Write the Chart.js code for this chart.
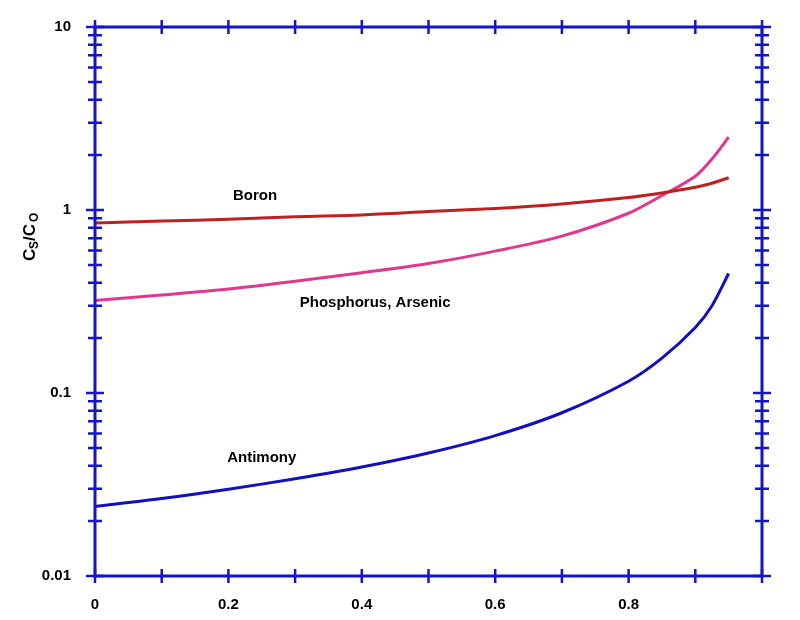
<!DOCTYPE html>
<html><head><meta charset="utf-8">
<script src="https://cdn.jsdelivr.net/npm/chart.js@4/dist/chart.umd.min.js"></script>
<style>html,body{margin:0;background:#fff}#w{width:800px;height:620px}</style>
</head><body><div id="w"><canvas id="c"></canvas></div>
<script>
const fractions = [0,0.1,0.2,0.3,0.4,0.5,0.6,0.7,0.8,0.85,0.9,0.925,0.95];
const boron     = [0.85,0.87,0.89,0.92,0.94,0.98,1.02,1.08,1.17,1.24,1.33,1.40,1.50];
const phosArsen = [0.32,0.343,0.37,0.408,0.454,0.51,0.596,0.72,0.96,1.2,1.53,1.9,2.5];
const antimony  = [0.024,0.0265,0.0298,0.034,0.0394,0.047,0.0585,0.078,0.116,0.155,0.228,0.30,0.45];
const xTicks = [0,0.2,0.4,0.6,0.8];
const yTicks = [0.01,0.1,1,10];
const labels = [["Boron",0.24,1.2],["Phosphorus, Arsenic",0.42,0.31],["Antimony",0.25,0.044]];
const AX='#1414c8';
const pts = a => a.map((v,i)=>({x:fractions[i],y:v}));
const deco = {id:'deco',afterDraw(ch){
  const c=ch.ctx,a=ch.chartArea,xs=ch.scales.x,ys=ch.scales.y;
  c.save();c.strokeStyle=AX;c.lineWidth=3;
  c.strokeRect(a.left,a.top,a.right-a.left,a.bottom-a.top);
  c.lineWidth=2.5;
  for(let i=0;i<=10;i++){const x=xs.getPixelForValue(i/10);
    c.beginPath();c.moveTo(x,a.bottom-7);c.lineTo(x,a.bottom+7);c.moveTo(x,a.top-7);c.lineTo(x,a.top+7);c.stroke();}
  for(let d=-2;d<=0;d++)for(let m=1;m<=9;m++){const v=m*Math.pow(10,d);const y=ys.getPixelForValue(v);const L=m==1?9:7;
    c.beginPath();c.moveTo(a.left-L,y);c.lineTo(a.left+L,y);c.moveTo(a.right-L,y);c.lineTo(a.right+L,y);c.stroke();}
  {const y=ys.getPixelForValue(10);c.beginPath();c.moveTo(a.left-9,y);c.lineTo(a.left+9,y);c.moveTo(a.right-9,y);c.lineTo(a.right+9,y);c.stroke();}
  c.fillStyle='#000';c.font='bold 15px "Liberation Sans"';c.textAlign='center';c.textBaseline='middle';
  labels.forEach(l=>c.fillText(l[0],xs.getPixelForValue(l[1]),ys.getPixelForValue(l[2])));
  c.translate(30,235);c.rotate(-Math.PI/2);c.textAlign='left';
  c.font='bold 17px "Liberation Sans"';c.fillText('C',-26,0);
  c.font='bold 12px "Liberation Sans"';c.fillText('S',-14,5);
  c.font='bold 17px "Liberation Sans"';c.fillText('/C',-6,0);
  c.font='bold 12px "Liberation Sans"';c.fillText('O',13,5);
  c.restore();}};
new Chart(document.getElementById('c'),{type:'line',
 data:{datasets:[
  {data:pts(boron),borderColor:'#c02020',borderWidth:3,pointRadius:0,tension:0.3},
  {data:pts(phosArsen),borderColor:'#e03890',borderWidth:3,pointRadius:0,tension:0.3},
  {data:pts(antimony),borderColor:'#1010c0',borderWidth:3,pointRadius:0,tension:0.3}]},
 options:{responsive:true,maintainAspectRatio:false,animation:false,
  layout:{padding:{top:27,right:38,bottom:0,left:0}},
  plugins:{legend:{display:false},tooltip:{enabled:false}},
  scales:{
   x:{type:'linear',min:0,max:1,afterBuildTicks:s=>{s.ticks=xTicks.map(v=>({value:v}));},
     afterFit:s=>{s.height=44;},grid:{display:false},border:{display:false},
     ticks:{color:'#000',font:{family:'Liberation Sans',weight:'bold',size:15},padding:12,callback:v=>String(v)}},
   y:{type:'logarithmic',min:0.01,max:10,afterBuildTicks:s=>{s.ticks=yTicks.map(v=>({value:v}));},
     afterFit:s=>{s.width=95;},grid:{display:false},border:{display:false},
     ticks:{color:'#000',font:{family:'Liberation Sans',weight:'bold',size:15},padding:16,callback:v=>String(v)}}}},
 plugins:[deco]});
</script></body></html>
